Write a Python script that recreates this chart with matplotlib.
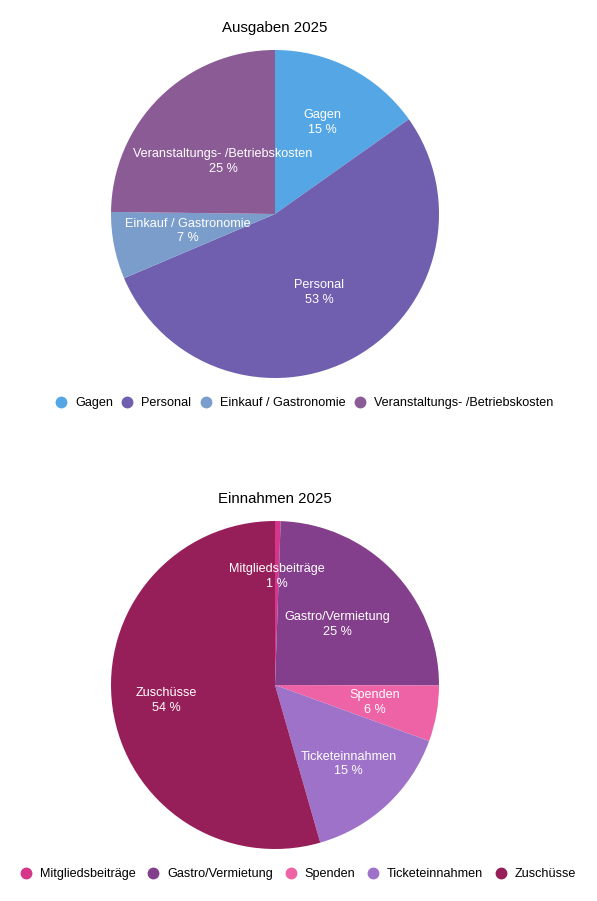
import math

import numpy as np
import matplotlib.pyplot as plt
from matplotlib.lines import Line2D

plt.rcParams['font.family'] = ['Liberation Sans', 'DejaVu Sans']

# Ausgaben 2025
out_labels = ["Gagen", "Personal", "Einkauf / Gastronomie", "Veranstaltungs- /Betriebskosten"]
out_values = [15.2, 53.4, 6.6, 24.8]
out_colors = ["#55a6e5", "#6f5fae", "#7b9dcc", "#8b5b96"]
out_label_r = [0.63, 0.55, 0.54, 0.45]

# Einnahmen 2025
in_labels = ["Mitgliedsbeiträge", "Gastro/Vermietung", "Spenden", "Ticketeinnahmen", "Zuschüsse"]
in_values = [0.55, 24.5, 5.5, 15.0, 54.45]
in_colors = ["#d6368a", "#843f8c", "#ee63a5", "#9e72c8", "#961f5a"]
in_label_r = [0.66, 0.53, 0.62, 0.66, 0.67]

W, H = 597, 901


def px_axes(fig, cx, cy, r):
    return fig.add_axes([(cx - r) / W, 1 - (cy + r) / H, 2 * r / W, 2 * r / H])


def draw_pie(fig, cx, cy, r, values, labels, colors, label_r, title, legend_y, legend_x, colspace):
    ax = px_axes(fig, cx, cy, r)
    wedges, _ = ax.pie(values, colors=colors, startangle=90, counterclock=False,
                       radius=1.0, wedgeprops=dict(linewidth=0))
    ax.set_xlim(-1, 1)
    ax.set_ylim(-1, 1)
    ax.set_aspect("equal")
    ax.axis("off")
    total = sum(values)
    for w, lab, v, lr in zip(wedges, labels, values, label_r):
        mid = np.deg2rad((w.theta1 + w.theta2) / 2)
        pct = math.floor(v / total * 100 + 0.5)
        ax.text(lr * np.cos(mid), lr * np.sin(mid), f"{lab}\n{pct} %",
                ha="center", va="center", color="white", fontsize=9.1, linespacing=1.3)
    fig.text(cx / W, 1 - (cy - r - 22) / H, title, ha="center", va="center", fontsize=10.8)
    handles = [Line2D([], [], marker="o", linestyle="none", markersize=7.5,
                      markerfacecolor=c, markeredgecolor=c) for c in colors]
    fig.legend(handles, labels, loc="center", bbox_to_anchor=(legend_x / W, 1 - legend_y / H),
               ncol=len(labels), frameon=False, fontsize=9.1, handletextpad=0.6,
               columnspacing=colspace, handlelength=1.0, borderpad=0)


fig = plt.figure(figsize=(W / 100, H / 100), dpi=100)
draw_pie(fig, 275, 214, 164, out_values, out_labels, out_colors, out_label_r,
         "Ausgaben 2025", 403, 304, 0.65)
draw_pie(fig, 275, 685, 164, in_values, in_labels, in_colors, in_label_r,
         "Einnahmen 2025", 874, 298, 0.9)
fig.savefig("out.png", dpi=100)
